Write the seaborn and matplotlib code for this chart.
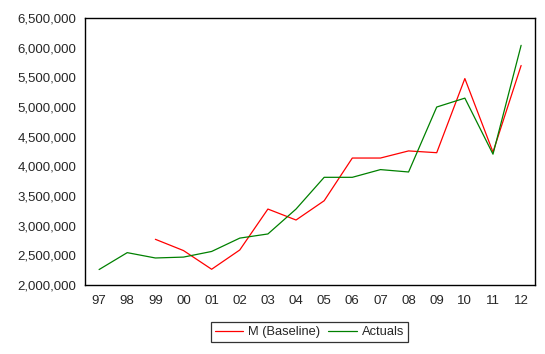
import numpy as np
import pandas as pd
import matplotlib
matplotlib.use("Agg")
import matplotlib.pyplot as plt
import seaborn as sns

# Data
years = ["97", "98", "99", "00", "01", "02", "03", "04",
         "05", "06", "07", "08", "09", "10", "11", "12"]
actuals = [2260000, 2545000, 2455000, 2470000, 2565000, 2790000, 2860000, 3280000,
           3815000, 3815000, 3945000, 3905000, 5000000, 5150000, 4205000, 6040000]
baseline = [np.nan, np.nan, 2770000, 2580000, 2265000, 2590000, 3280000, 3095000,
            3420000, 4140000, 4140000, 4260000, 4230000, 5480000, 4240000, 5700000]

sns.set_style("white")
plt.rcParams["font.family"] = ["Liberation Sans", "DejaVu Sans"]
plt.rcParams["font.size"] = 9

df = pd.DataFrame({
    "pos": list(range(len(years))) * 2,
    "value": baseline + actuals,
    "series": ["M (Baseline)"] * len(years) + ["Actuals"] * len(years),
})

fig = plt.figure(figsize=(5.45, 3.54), dpi=100)
ax = fig.add_axes([0.156, 0.195, 0.826, 0.754])

sns.lineplot(data=df, x="pos", y="value", hue="series",
             palette={"M (Baseline)": "#ff0000", "Actuals": "#008000"},
             linewidth=0.9, ax=ax, legend=False)

ax.set_xlim(-0.5, len(years) - 0.5)
ax.set_ylim(2000000, 6500000)
ax.set_yticks(np.arange(2000000, 6500001, 500000))
ax.set_yticklabels([f"{v:,}" for v in range(2000000, 6500001, 500000)])

ax.set_xticks(range(len(years)))
ax.set_xticklabels(years)
ax.set_xticks(np.arange(-0.5, len(years), 1.0), minor=True)
ax.tick_params(axis="x", which="major", length=0, pad=7, labelsize=9.5)
ax.tick_params(axis="x", which="minor", length=5, width=0.9, color="black", direction="out")
ax.tick_params(axis="y", length=4, width=0.9, color="black", direction="out", labelsize=9.5, pad=2)
ax.set_xlabel("")
ax.set_ylabel("")

for s in ax.spines.values():
    s.set_color("black")
    s.set_linewidth(1.0)

handles = [plt.Line2D([], [], color="#ff0000", linewidth=0.9),
           plt.Line2D([], [], color="#008000", linewidth=0.9)]
leg = fig.legend(handles, ["M (Baseline)", "Actuals"], loc="center",
                 bbox_to_anchor=(0.568, 0.062), ncol=2, fontsize=9.3,
                 frameon=True, fancybox=False, handlelength=2.2,
                 columnspacing=0.6, handletextpad=0.4, borderpad=0.3)
leg.get_frame().set_edgecolor("black")
leg.get_frame().set_linewidth(0.9)

fig.savefig("out.png", dpi=100)
